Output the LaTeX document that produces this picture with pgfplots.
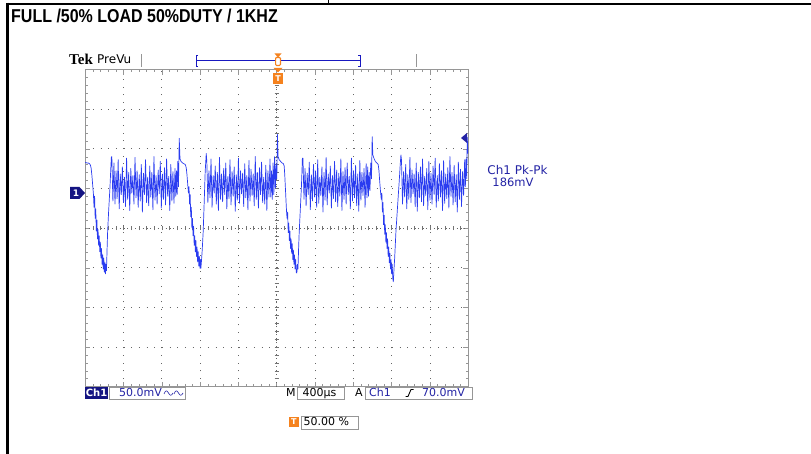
\documentclass[border=0pt]{standalone}
\usepackage{fontspec}
\usepackage{graphicx}
\usepackage{pgfplots}
\pgfplotsset{compat=1.18}
\setmainfont{DejaVu Sans}
\newfontfamily\titlefont{Liberation Sans}
\newfontfamily\tekfont{Liberation Serif}
\definecolor{tracecol}{RGB}{42,60,240}
\definecolor{tektext}{RGB}{35,35,165}
\definecolor{navy}{RGB}{20,20,130}
\definecolor{tekorange}{RGB}{245,130,30}
\definecolor{rulergray}{RGB}{150,150,150}
\begin{document}
\begin{tikzpicture}[x=1pt,y=1pt]
\path[use as bounding box, fill=white] (0,0) rectangle (811,454);
% outer frame
\draw[black, line width=2.6pt] (6.2,450) -- (811,450);
\draw[black, line width=2.6pt] (7.5,451.3) -- (7.5,0);
\draw[black, line width=1pt] (328.5,454) -- (328.5,450);
\node[anchor=base west, inner sep=0, font=\titlefont\bfseries\fontsize{18.6}{20}\selectfont] at (11,431) {\scalebox{0.86}[1]{FULL /50\% LOAD 50\%DUTY / 1KHZ}};
\begin{axis}[at={(89,85)}, anchor=south west, scale only axis,
  width=383pt, height=317pt,
  xmin=0, xmax=4000, ymin=-242.3, ymax=157.7,
  xtick={0,400,...,4000},
  ytick={-242.3,-192.3,-142.3,-92.3,-42.3,7.7,57.7,107.7,157.7},
  xticklabels={}, yticklabels={},
  minor x tick num=4, minor y tick num=4,
  tick align=inside, xtick pos=both, ytick pos=both,
  major tick length=5pt, minor tick length=2.5pt,
  every tick/.style={rulergray, line width=0.5pt},
  axis line style={rulergray, line width=1.2pt},
  grid=major,
  major grid style={black!60, line width=0.8pt, dash pattern=on 0.8pt off 6.87pt},
  clip=true]
\draw[black!60, line width=0.6pt, dash pattern=on 1pt off 2.83pt] (axis cs:0,-42.3) -- (axis cs:4000,-42.3);
\draw[black!60, line width=0.6pt, dash pattern=on 1pt off 2.96pt] (axis cs:2000,-242.3) -- (axis cs:2000,157.7);
\pgfplotsinvokeforeach{80,160,...,3920}{\draw[black!55, line width=0.5pt] (axis cs:#1,-42.3) ++(0pt,-2pt) -- ++(0pt,4pt);}
\pgfplotsinvokeforeach{-232.3,-222.3,...,147.7}{\draw[black!55, line width=0.5pt] (axis cs:2000,#1) ++(-2pt,0pt) -- ++(4pt,0pt);}
\addplot[color=tracecol, line width=0.7pt, line join=round, mark=none] coordinates {
(0,41) (15,40) (30,40) (45,39) (55,37) (62,33) (70,24) (78,12) (86,0) (92,-16) (98,-2) (104,-30) (110,-18) (116,-46) (122,-32) (128,-56) (134,-44) (140,-64) (146,-52) (152,-72) (158,-60) (164,-80) (170,-68) (176,-88) (182,-76) (188,-94) (194,-80) (200,-98) (206,-86) (211,-100) (216,-88) (222,-96) (228,-70) (234,-47) (245,-20) (258,8) (268,35) (273,47)
(278,48) (289,-8) (300,40) (311,-12) (322,30) (333,-5) (344,44) (355,-18) (366,26) (377,0) (388,35) (399,-10) (410,22) (421,-15) (432,46) (443,-6) (454,28) (465,-20) (476,33) (487,2) (498,24) (509,-12) (520,47) (531,-4) (542,30) (553,-16) (564,25) (575,-8) (586,38) (597,-22) (608,27) (619,0) (630,44) (641,-10) (652,22) (663,-14) (674,36) (685,-3) (696,28) (707,-19) (718,48) (729,-7) (740,24) (751,-12) (762,31) (773,1) (784,42) (795,-17) (806,26) (817,-6) (828,34) (839,-13) (850,45) (861,-2) (872,23) (883,-20) (894,38) (905,-8) (916,29) (927,-11) (938,33)
(946,-2) (953,30) (960,0) (967,42) (974,10) (982,71)
(990,45) (1000,42) (1015,40) (1030,39) (1045,38) (1055,34) (1062,26) (1070,14) (1078,2) (1084,10) (1090,-12) (1096,0) (1102,-28) (1108,-16) (1114,-42) (1120,-30) (1126,-52) (1132,-40) (1138,-64) (1144,-52) (1150,-72) (1156,-58) (1162,-78) (1168,-66) (1174,-85) (1180,-72) (1186,-90) (1192,-78) (1198,-93) (1204,-82) (1208,-93) (1214,-84) (1222,-70) (1232,-47) (1242,-12) (1253,29) (1264,52)
(1270,42) (1281,-10) (1292,30) (1303,-4) (1314,45) (1325,-16) (1336,24) (1347,2) (1358,36) (1369,-12) (1380,28) (1391,-20) (1402,47) (1413,-6) (1424,26) (1435,-9) (1446,33) (1457,0) (1468,40) (1479,-18) (1490,23) (1501,-5) (1512,44) (1523,-13) (1534,29) (1545,-2) (1556,35) (1567,-21) (1578,25) (1589,-7) (1600,46) (1611,-11) (1622,30) (1633,1) (1644,27) (1655,-15) (1666,39) (1677,-4) (1688,24) (1699,-19) (1710,43) (1721,-8) (1732,32) (1743,-1) (1754,26) (1765,-14) (1776,48) (1787,-6) (1798,28) (1809,-17) (1820,34) (1831,0) (1842,41) (1853,-10) (1864,22) (1875,-12) (1886,37) (1897,-20) (1908,30) (1919,-3) (1930,45)
(1938,-3) (1946,30) (1954,-6) (1962,40) (1970,0) (1978,48) (1986,8) (1994,38) (2001,20) (2008,76)
(2014,48) (2026,44) (2040,42) (2055,40) (2070,39) (2078,36) (2084,25) (2090,10) (2096,-5) (2102,-20) (2108,-30) (2114,-22) (2120,-48) (2126,-36) (2132,-58) (2138,-46) (2144,-68) (2150,-56) (2156,-74) (2162,-62) (2168,-82) (2174,-70) (2180,-88) (2186,-76) (2192,-94) (2198,-82) (2204,-98) (2210,-99) (2216,-88) (2222,-94) (2228,-70) (2235,-47) (2248,-15) (2258,10) (2264,30) (2268,46)
(2274,46) (2285,-6) (2296,33) (2307,-14) (2318,27) (2329,0) (2340,41) (2351,-19) (2362,25) (2373,-8) (2384,38) (2395,-3) (2406,30) (2417,-16) (2428,44) (2439,-11) (2450,22) (2461,-1) (2472,35) (2483,-22) (2494,28) (2505,-7) (2516,47) (2527,-13) (2538,26) (2549,2) (2560,36) (2571,-17) (2582,24) (2593,-5) (2604,42) (2615,-9) (2626,31) (2637,-15) (2648,27) (2659,-2) (2670,45) (2681,-20) (2692,29) (2703,-6) (2714,34) (2725,-12) (2736,40) (2747,0) (2758,23) (2769,-18) (2780,46) (2791,-8) (2802,30) (2813,-4) (2824,37) (2835,-14) (2846,26) (2857,-21) (2868,43) (2879,-7) (2890,28) (2901,-1) (2912,33) (2923,-16) (2934,39)
(2942,-4) (2950,35) (2958,-2) (2966,28) (2974,5) (2982,40) (2990,20) (2997,73)
(3004,50) (3018,45) (3030,42) (3045,40) (3060,38) (3068,30) (3076,16) (3084,4) (3092,-6) (3098,2) (3104,-22) (3110,-10) (3116,-38) (3122,-26) (3128,-50) (3134,-38) (3140,-60) (3146,-48) (3152,-68) (3158,-56) (3164,-78) (3170,-66) (3176,-86) (3182,-74) (3188,-94) (3194,-82) (3200,-100) (3206,-88) (3212,-106) (3218,-110) (3224,-96) (3232,-80) (3245,-47) (3262,-15) (3279,16) (3290,38) (3297,50)
(3303,44) (3314,-12) (3325,29) (3336,-3) (3347,38) (3358,-18) (3369,25) (3380,-6) (3391,47) (3402,-10) (3413,31) (3424,1) (3435,26) (3446,-15) (3457,40) (3468,-21) (3479,28) (3490,-4) (3501,35) (3512,-9) (3523,45) (3534,-14) (3545,23) (3556,-1) (3567,33) (3578,-19) (3589,42) (3600,-7) (3611,27) (3622,-12) (3633,36) (3644,0) (3655,46) (3666,-16) (3677,24) (3688,-8) (3699,39) (3710,-3) (3721,30) (3732,-20) (3743,43) (3754,-11) (3765,26) (3776,-5) (3787,34) (3798,-17) (3809,48) (3820,-2) (3831,28) (3842,-13) (3853,37) (3864,-9) (3875,25) (3886,-22) (3897,41) (3908,-6) (3919,32) (3930,-15) (3941,29) (3952,-1) (3963,44)
(3970,10) (3978,45) (3984,20) (3990,72) (3996,52) (4000,60)
};
\end{axis}
% top PreVu bar
\node[anchor=base west, inner sep=0, font=\tekfont\bfseries\fontsize{15}{17}\selectfont] at (69,389) {Tek};
\node[anchor=base west, inner sep=0, font=\fontsize{12}{14}\selectfont] at (97,390) {PreVu};
\draw[rulergray, line width=1pt] (141,387) -- (141,400);
\draw[rulergray, line width=1pt] (416,387) -- (416,400);
\draw[tektext!70!blue, line width=0.9pt] (198,399) -- (196,399) -- (196,388) -- (198,388);
\draw[tektext!70!blue, line width=0.9pt] (358,399) -- (360,399) -- (360,388) -- (358,388);
\draw[tektext!70!blue, line width=1pt] (196,393.3) -- (360,393.3);
\fill[tekorange] (274.5,400.5) -- (281.5,400.5) -- (278,396.5) -- cycle;
\draw[tekorange, line width=1.2pt, fill=white, rounded corners=1pt] (275.6,396.5) rectangle (280.4,388.5);
\fill[tekorange] (273.5,386) -- (282.5,386) -- (278,381.5) -- cycle;
\fill[tekorange] (273,370) rectangle (283,381);
\node[inner sep=0, text=white, font=\bfseries\fontsize{8}{9}\selectfont] at (278,375.5) {T};
% ground marker
\fill[navy] (70,267) -- (79.5,267) -- (85,261) -- (79.5,255) -- (70,255) -- cycle;
\node[inner sep=0, text=white, font=\bfseries\fontsize{9}{10}\selectfont] at (76,261) {1};
% trigger level arrow
\fill[tektext] (461,316) -- (467,321) -- (467,311) -- cycle;
% measurement
\node[anchor=base, inner sep=0, text=tektext, font=\fontsize{12}{14}\selectfont] at (517.5,279) {Ch1 Pk-Pk};
\node[anchor=base, inner sep=0, text=tektext, font=\fontsize{11.5}{14}\selectfont] at (513,267) {186mV};
% bottom readout
\fill[navy] (85,55) rectangle (108,67);
\node[anchor=base, inner sep=0, text=white, font=\bfseries\fontsize{10}{12}\selectfont] at (96.5,57.3) {Ch1};
\draw[rulergray, line width=0.8pt] (109,55) rectangle (185,67);
\node[anchor=base west, inner sep=0, text=tektext, font=\fontsize{11}{12}\selectfont] at (119,57.3) {50.0mV};
\draw[tektext, line width=0.6pt] (164,60) .. controls (165.5,64) and (167,64) .. (168.5,61) .. controls (170,58) and (171.5,58) .. (173,61);
\draw[tektext, line width=0.6pt] (174,60) .. controls (175.5,64) and (177,64) .. (178.5,61) .. controls (180,58) and (181.5,58) .. (183,61);
\node[anchor=base west, inner sep=0, text=black, font=\fontsize{11}{12}\selectfont] at (286,57.3) {M};
\draw[rulergray, line width=0.8pt] (297,55) rectangle (344,67);
\node[anchor=base west, inner sep=0, text=black, font=\fontsize{11}{12}\selectfont] at (302.5,57.3) {400µs};
\node[anchor=base west, inner sep=0, text=black, font=\fontsize{11}{12}\selectfont] at (355,57.3) {A};
\draw[rulergray, line width=0.8pt] (365,55) rectangle (472,67);
\node[anchor=base west, inner sep=0, text=tektext, font=\fontsize{11}{12}\selectfont] at (369,57.3) {Ch1};
\draw[black, line width=0.9pt] (405.5,57.5) -- (408,57.5) -- (411,64.5) -- (413.5,64.5);
\node[anchor=base west, inner sep=0, text=tektext, font=\fontsize{11}{12}\selectfont] at (422,57.3) {70.0mV};
\fill[tekorange] (289,27) rectangle (298.5,37);
\node[inner sep=0, text=white, font=\bfseries\fontsize{8}{9}\selectfont] at (293.75,32) {T};
\draw[rulergray, line width=0.8pt] (301,25) rectangle (358,38);
\node[anchor=base west, inner sep=0, text=black, font=\fontsize{11}{12}\selectfont] at (303.5,28) {50.00 \%};
\end{tikzpicture}
\end{document}
